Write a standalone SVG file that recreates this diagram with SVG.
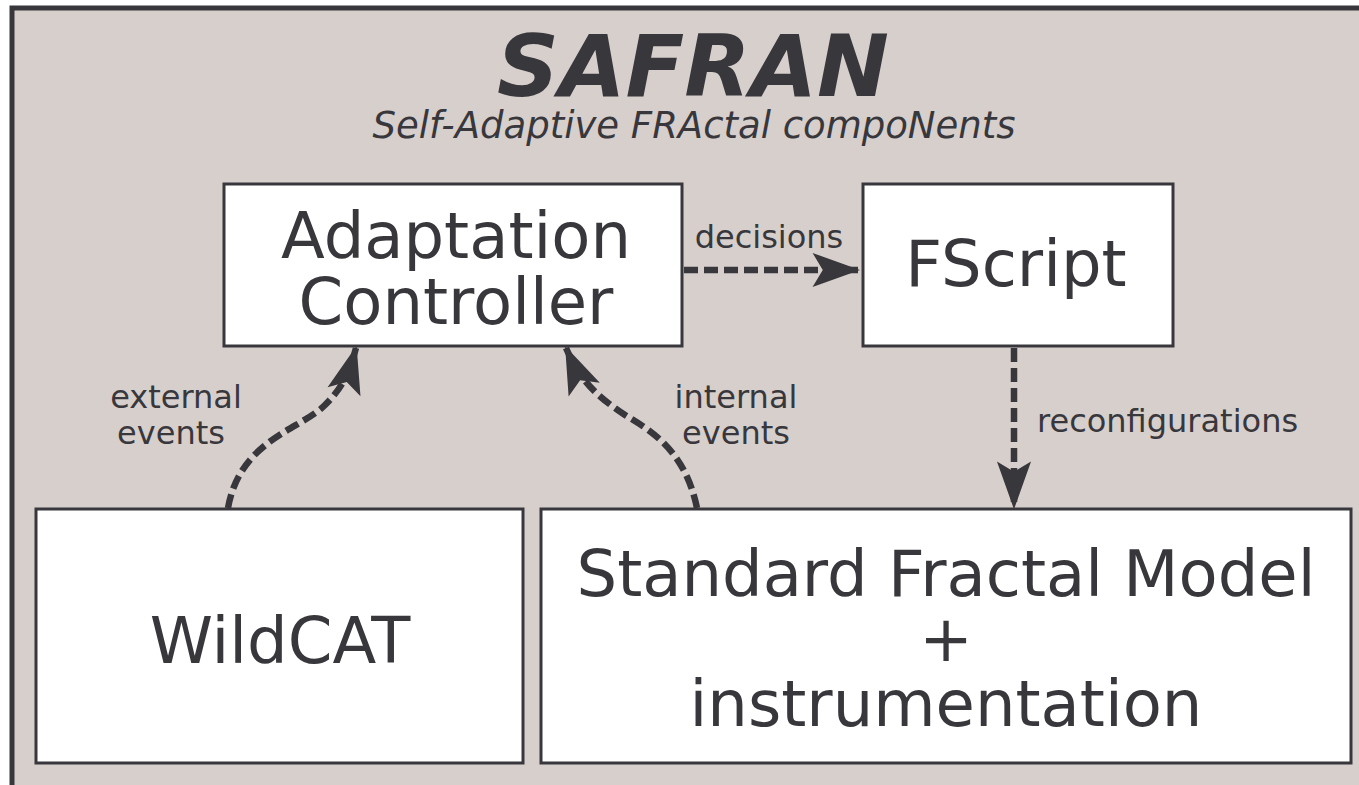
<svg xmlns="http://www.w3.org/2000/svg" width="1359" height="785" viewBox="0 0 1359 785">
<style>
.box{fill:#ffffff;stroke:#38373c;stroke-width:3}
.big{font-family:"DejaVu Sans",sans-serif;font-size:64px;fill:#38373c;text-anchor:middle}
.lbl{font-family:"DejaVu Sans",sans-serif;font-size:32px;fill:#38373c}
.con{fill:none;stroke:#38373c;stroke-width:6.5;stroke-dasharray:14,6}
</style>
<defs>
<marker id="ah" markerUnits="userSpaceOnUse" markerWidth="50" markerHeight="40" viewBox="-42 -17 44 34" refX="0" refY="0" orient="auto">
<path d="M2,0 L-40,-15 L-31,0 L-40,15 Z" fill="#38373c"/>
</marker>
</defs>
<rect x="12" y="8" width="1360" height="800" fill="#d7cfcc" stroke="#38373c" stroke-width="5"/>
<g id="title">
<text x="693" y="96" font-family="DejaVu Sans,sans-serif" font-size="86" font-weight="bold" font-style="italic" fill="#38373c" text-anchor="middle">SAFRAN</text>
<text x="694" y="138" font-family="DejaVu Sans,sans-serif" font-size="37" font-style="italic" fill="#38373c" text-anchor="middle">Self-Adaptive FRActal compoNents</text>
</g>
<g id="connectors">
<path class="con" d="M684,270 L858,270" marker-end="url(#ah)"/>
<path class="con" d="M1014,348 L1014,507" marker-end="url(#ah)"/>
<path class="con" d="M228,508 C240,440 300,430 325,405 C345,385 350,370 356,348" marker-end="url(#ah)"/>
<path class="con" d="M697,508 C685,450 650,430 625,415 C595,395 580,380 566,348" marker-end="url(#ah)"/>
<text class="lbl" x="769" y="248" text-anchor="middle">decisions</text>
<text class="lbl" x="176" y="408" text-anchor="middle">external</text>
<text class="lbl" x="171" y="444" text-anchor="middle">events</text>
<text class="lbl" x="736" y="408" text-anchor="middle">internal</text>
<text class="lbl" x="736" y="444" text-anchor="middle">events</text>
<text class="lbl" x="1037" y="432">reconfigurations</text>
</g>
<g id="adaptation-controller">
<rect class="box" x="224" y="184" width="458" height="162"/>
<text class="big" x="456" y="258">Adaptation</text>
<text class="big" x="456" y="324">Controller</text>
</g>
<g id="fscript">
<rect class="box" x="863" y="184" width="310" height="162"/>
<text class="big" x="1016" y="286">FScript</text>
</g>
<g id="wildcat">
<rect class="box" x="36" y="509" width="487" height="254"/>
<text class="big" x="280" y="663">WildCAT</text>
</g>
<g id="standard-fractal">
<rect class="box" x="541" y="509" width="810" height="254"/>
<text class="big" x="946" y="596">Standard Fractal Model</text>
<text class="big" x="946" y="661">+</text>
<text class="big" x="946" y="726">instrumentation</text>
</g>
</svg>
